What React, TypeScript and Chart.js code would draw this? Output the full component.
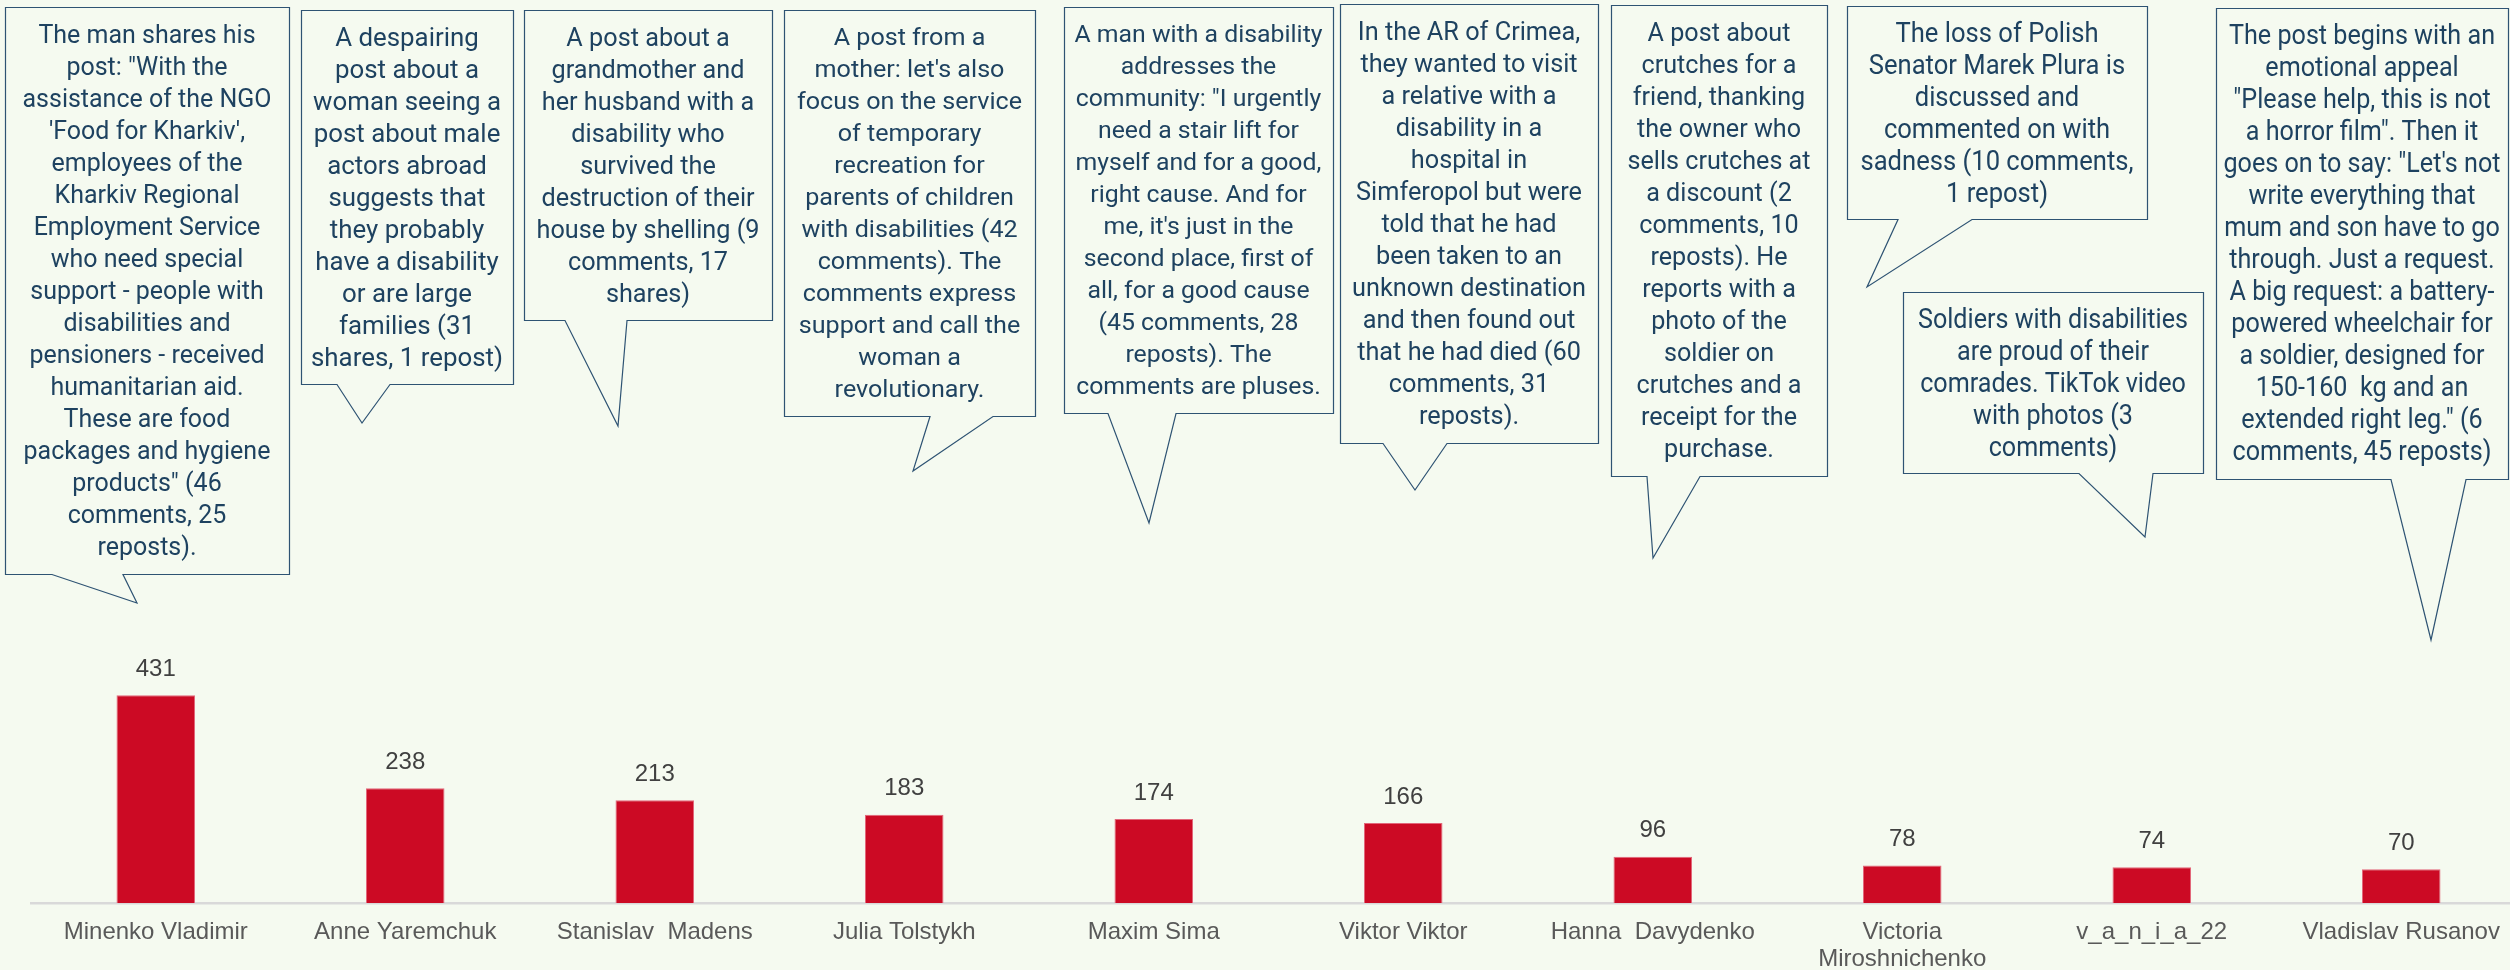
import React, { useEffect, useRef } from 'react';
import { Chart, registerables } from 'chart.js';

Chart.register(...registerables);

const categories: (string | string[])[] = [
  'Minenko Vladimir',
  'Anne Yaremchuk',
  'Stanislav  Madens',
  'Julia Tolstykh',
  'Maxim Sima',
  'Viktor Viktor',
  'Hanna  Davydenko',
  ['Victoria', 'Miroshnichenko'],
  'v_a_n_i_a_22',
  'Vladislav Rusanov',
];

const values: number[] = [431, 238, 213, 183, 174, 166, 96, 78, 74, 70];

const calloutTexts: string[][] = [
  ['The man shares his', 'post: "With the', 'assistance of the NGO', "'Food for Kharkiv',", 'employees of the', 'Kharkiv Regional', 'Employment Service', 'who need special', 'support - people with', 'disabilities and', 'pensioners - received', 'humanitarian aid.', 'These are food', 'packages and hygiene', 'products" (46', 'comments, 25', 'reposts).'],
  ['A despairing', 'post about a', 'woman seeing a', 'post about male', 'actors abroad', 'suggests that', 'they probably', 'have a disability', 'or are large', 'families (31', 'shares, 1 repost)'],
  ['A post about a', 'grandmother and', 'her husband with a', 'disability who', 'survived the', 'destruction of their', 'house by shelling (9', 'comments, 17', 'shares)'],
  ['A post from a', "mother: let's also", 'focus on the service', 'of temporary', 'recreation for', 'parents of children', 'with disabilities (42', 'comments). The', 'comments express', 'support and call the', 'woman a', 'revolutionary.'],
  ['A man with a disability', 'addresses the', 'community: "I urgently', 'need a stair lift for', 'myself and for a good,', 'right cause. And for', "me, it's just in the", 'second place, first of', 'all, for a good cause', '(45 comments, 28', 'reposts). The', 'comments are pluses.'],
  ['In the AR of Crimea,', 'they wanted to visit', 'a relative with a', 'disability in a', 'hospital in', 'Simferopol but were', 'told that he had', 'been taken to an', 'unknown destination', 'and then found out', 'that he had died (60', 'comments, 31', 'reposts).'],
  ['A post about', 'crutches for a', 'friend, thanking', 'the owner who', 'sells crutches at', 'a discount (2', 'comments, 10', 'reposts). He', 'reports with a', 'photo of the', 'soldier on', 'crutches and a', 'receipt for the', 'purchase.'],
  ['The loss of Polish', 'Senator Marek Plura is', 'discussed and', 'commented on with', 'sadness (10 comments,', '1 repost)'],
  ['Soldiers with disabilities', 'are proud of their', 'comrades. TikTok video', 'with photos (3', 'comments)'],
  ['The post begins with an', 'emotional appeal', '"Please help, this is not', 'a horror film". Then it', 'goes on to say: "Let\'s not', 'write everything that', 'mum and son have to go', 'through. Just a request.', 'A big request: a battery-', 'powered wheelchair for', 'a soldier, designed for', '150-160  kg and an', 'extended right leg." (6', 'comments, 45 reposts)'],
];

// Annotation layout (pixel geometry of callout boxes): [left, top, right, bottom], tail base x-range, tail tip
const calloutLayout = [
  { box: [5, 7, 289, 574], base: [52, 123], tip: [137, 603], font: 26, textWidth: 249 },
  { box: [301, 10, 513, 384], base: [337, 390], tip: [362, 423], font: 26, textWidth: 192 },
  { box: [524, 10, 772, 320], base: [565, 627], tip: [618, 426], font: 26, textWidth: 223 },
  { box: [784, 10, 1035, 416], base: [930, 993], tip: [913, 471], font: 24, textWidth: 225 },
  { box: [1064, 7, 1333, 413], base: [1108, 1176], tip: [1149, 523], font: 24, textWidth: 248 },
  { box: [1340, 4, 1598, 443], base: [1383, 1447], tip: [1415, 490], font: 26, textWidth: 234 },
  { box: [1611, 5, 1827, 476], base: [1647, 1700], tip: [1653, 558], font: 26, textWidth: 183 },
  { box: [1847, 6, 2147, 219], base: [1898, 1972], tip: [1867, 287], font: 27, textWidth: 273 },
  { box: [1903, 292, 2203, 473], base: [2079, 2153], tip: [2145, 537], font: 27, textWidth: 270 },
  { box: [2216, 8, 2508, 479], base: [2391, 2466], tip: [2431, 640], font: 27, textWidth: 277 },
];

const BG = '#F5FAF0';
const BAR = '#CC0A24';
const BAR_EDGE = '#E2677A';
const TEXT = '#1E4260';
const BORDER = '#2E5373';
const LABEL = '#404040';
const TICK = '#595959';
const AXIS = '#D9D9D9';
const SANS = "'Liberation Sans', Arial, sans-serif";

const bgPlugin = {
  id: 'bgFill',
  beforeDraw(chart: any) {
    const { ctx, width, height } = chart;
    ctx.save();
    ctx.fillStyle = BG;
    ctx.fillRect(0, 0, width, height);
    ctx.restore();
  },
};

const labelPlugin = {
  id: 'valueLabels',
  afterDatasetsDraw(chart: any) {
    const ctx = chart.ctx;
    const meta = chart.getDatasetMeta(0);
    ctx.save();
    ctx.font = `24px ${SANS}`;
    ctx.fillStyle = LABEL;
    ctx.textAlign = 'center';
    ctx.textBaseline = 'middle';
    meta.data.forEach((bar: any, i: number) => {
      ctx.fillText(String(values[i]), bar.x, bar.y - 26);
    });
    ctx.restore();
  },
};

const calloutPlugin = {
  id: 'callouts',
  afterDraw(chart: any) {
    const ctx = chart.ctx;
    ctx.save();
    calloutLayout.forEach((c, i) => {
      const [l0, t0, r0, b0] = c.box;
      const l = Math.round(l0) + 0.5;
      const t = Math.round(t0) + 0.5;
      const r = Math.round(r0) + 0.5;
      const b = Math.round(b0) + 0.5;
      ctx.beginPath();
      ctx.moveTo(l, t);
      ctx.lineTo(r, t);
      ctx.lineTo(r, b);
      ctx.lineTo(c.base[1], b);
      ctx.lineTo(c.tip[0], c.tip[1]);
      ctx.lineTo(c.base[0], b);
      ctx.lineTo(l, b);
      ctx.closePath();
      ctx.fillStyle = BG;
      ctx.fill();
      ctx.lineWidth = 1.2;
      ctx.strokeStyle = BORDER;
      ctx.stroke();

      const lines = calloutTexts[i];
      ctx.font = `${c.font}px Roboto, 'Noto Sans', sans-serif`;
      const maxW = Math.max(...lines.map((s) => ctx.measureText(s).width));
      const sx = c.textWidth / maxW;
      const cx = (l0 + r0) / 2;
      ctx.fillStyle = TEXT;
      ctx.textAlign = 'center';
      ctx.textBaseline = 'middle';
      lines.forEach((s, j) => {
        ctx.save();
        ctx.translate(cx, t0 + 29 + j * 32);
        ctx.scale(sx, 1);
        ctx.fillText(s, 0, 0);
        ctx.restore();
      });
    });
    ctx.restore();
  },
};

export default function App() {
  const ref = useRef<HTMLCanvasElement>(null);

  useEffect(() => {
    if (!ref.current) return;
    const chart = new Chart(ref.current, {
      type: 'bar',
      data: {
        labels: categories as any,
        datasets: [
          {
            data: values,
            backgroundColor: BAR,
            borderColor: BAR_EDGE,
            borderWidth: 1,
            borderSkipped: 'start',
            barPercentage: 0.3146,
            categoryPercentage: 1,
          },
        ],
      },
      options: {
        responsive: false,
        animation: false,
        devicePixelRatio: 1,
        layout: { padding: { left: 31, right: 14, top: 35, bottom: 0 } },
        plugins: {
          legend: { display: false },
          tooltip: { enabled: false },
        },
        scales: {
          x: {
            grid: { display: false, drawTicks: false },
            border: { display: true, color: AXIS, width: 2.5 },
            ticks: {
              autoSkip: false,
              maxRotation: 0,
              minRotation: 0,
              padding: 16,
              color: TICK,
              font: { family: SANS, size: 24, lineHeight: 1.12 },
            },
            afterFit: (scale: any) => {
              scale.height = 67;
            },
          },
          y: {
            display: false,
            min: 0,
            max: 1800,
          },
        },
      },
      plugins: [bgPlugin, labelPlugin, calloutPlugin],
    });
    return () => chart.destroy();
  }, []);

  return (
    <div
      style={{
        position: 'fixed',
        left: 0,
        top: 0,
        width: 2510,
        height: 970,
        overflow: 'hidden',
        background: BG,
      }}
    >
      <canvas ref={ref} width={2540} height={970} style={{ width: 2540, height: 970, display: 'block' }} />
    </div>
  );
}
